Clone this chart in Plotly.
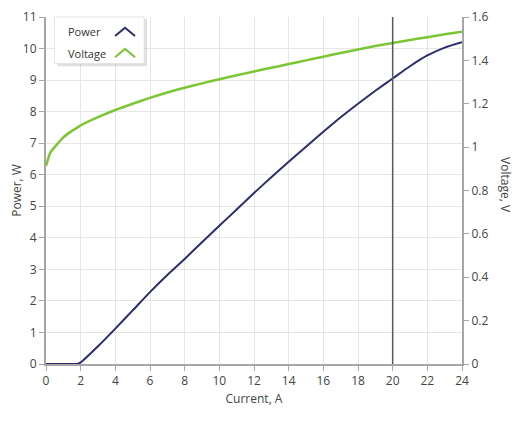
import plotly.graph_objects as go

current = [0, 0.25, 0.5, 1, 1.5, 1.8, 2, 3, 4, 5, 6, 7, 8, 9, 10, 11, 12,
           13, 14, 15, 16, 17, 18, 19, 20, 21, 22, 23, 24]
power = [0, 0, 0, 0, 0, 0, 0.05, 0.56, 1.12, 1.7, 2.28, 2.82, 3.33, 3.86,
         4.38, 4.9, 5.42, 5.92, 6.41, 6.89, 7.36, 7.82, 8.25, 8.66, 9.05, 9.44,
         9.78, 10.03, 10.2]
voltage = [0.913, 0.975, 1.0, 1.045, 1.075, 1.09, 1.1, 1.138, 1.171, 1.2,
           1.227, 1.252, 1.274, 1.294, 1.313, 1.331, 1.349, 1.366, 1.383,
           1.4, 1.417, 1.434, 1.45, 1.466, 1.48, 1.494, 1.507, 1.52, 1.532]
marker_current = 20

POWER_C = "#2b2d6e"
VOLT_C = "#7cc635"
FONT = "Open Sans"
GRID = "#e6e6e6"
AXIS = "#a6a6a6"

fig = go.Figure()
fig.add_trace(go.Scatter(x=current, y=power, mode="lines", name="Power",
                         line=dict(color=POWER_C, width=2, shape="spline",
                                   smoothing=0.6), showlegend=False))
fig.add_trace(go.Scatter(x=current, y=voltage, mode="lines", name="Voltage",
                         yaxis="y2", line=dict(color=VOLT_C, width=2.5,
                                               shape="spline", smoothing=0.6),
                         showlegend=False))

fig.add_shape(type="line", xref="x", yref="y", x0=marker_current,
              x1=marker_current, y0=0, y1=11,
              line=dict(color="#5a5a5a", width=1.5))

# custom legend box with shadow
fig.add_shape(type="rect", xref="paper", yref="paper", x0=0.027, x1=0.243,
              y0=0.858, y1=0.994, line=dict(width=0),
              fillcolor="rgba(0,0,0,0.12)", layer="above")
fig.add_shape(type="rect", xref="paper", yref="paper", x0=0.02, x1=0.236,
              y0=0.866, y1=1.0, line=dict(color="#e3e3e3", width=1),
              fillcolor="white", layer="above")
fig.add_annotation(xref="paper", yref="paper", x=0.048, y=0.957, text="Power",
                   showarrow=False, xanchor="left", yanchor="middle",
                   font=dict(family=FONT, size=11, color="#333"))
fig.add_annotation(xref="paper", yref="paper", x=0.048, y=0.896, text="Voltage",
                   showarrow=False, xanchor="left", yanchor="middle",
                   font=dict(family=FONT, size=11, color="#333"))
for yc, col in [(0.957, POWER_C), (0.896, VOLT_C)]:
    fig.add_shape(type="path", xref="paper", yref="paper",
                  path=f"M 0.166 {yc-0.012} L 0.19 {yc+0.012} L 0.214 {yc-0.012}",
                  line=dict(color=col, width=2), layer="above")

fig.add_annotation(xref="paper", yref="paper", x=1.103, y=0.516,
                   text="Voltage, V", textangle=90, showarrow=False,
                   xanchor="center", yanchor="middle",
                   font=dict(family=FONT, size=12, color="#444"))

fig.update_layout(
    width=512, height=413,
    margin=dict(l=38, r=58, t=9, b=57),
    paper_bgcolor="white", plot_bgcolor="white",
    font=dict(family=FONT, size=12, color="#444"),
    xaxis=dict(range=[0, 24], tickvals=list(range(0, 25, 2)),
               showgrid=True, gridcolor=GRID, zeroline=False,
               showline=True, linecolor=AXIS, linewidth=2,
               ticks="outside", ticklen=5, tickcolor=AXIS, automargin=False,
               title=dict(text="Current, A", font=dict(size=12), standoff=6)),
    yaxis=dict(range=[0, 11], tickvals=list(range(0, 12)),
               showgrid=True, gridcolor=GRID, zeroline=False,
               showline=True, linecolor=AXIS, linewidth=2,
               ticks="outside", ticklen=5, tickcolor=AXIS, automargin=False,
               title=dict(text="Power, W", font=dict(size=12), standoff=5)),
    yaxis2=dict(range=[0, 1.6], overlaying="y", side="right",
                tickvals=[0, 0.2, 0.4, 0.6, 0.8, 1, 1.2, 1.4, 1.6],
                ticktext=["0", "0.2", "0.4", "0.6", "0.8", "1", "1.2", "1.4", "1.6"],
                showgrid=False, zeroline=False, automargin=False,
                showline=True, linecolor=AXIS, linewidth=2,
                ticks="outside", ticklen=5, tickcolor=AXIS),
)

fig.write_html("out.html")
